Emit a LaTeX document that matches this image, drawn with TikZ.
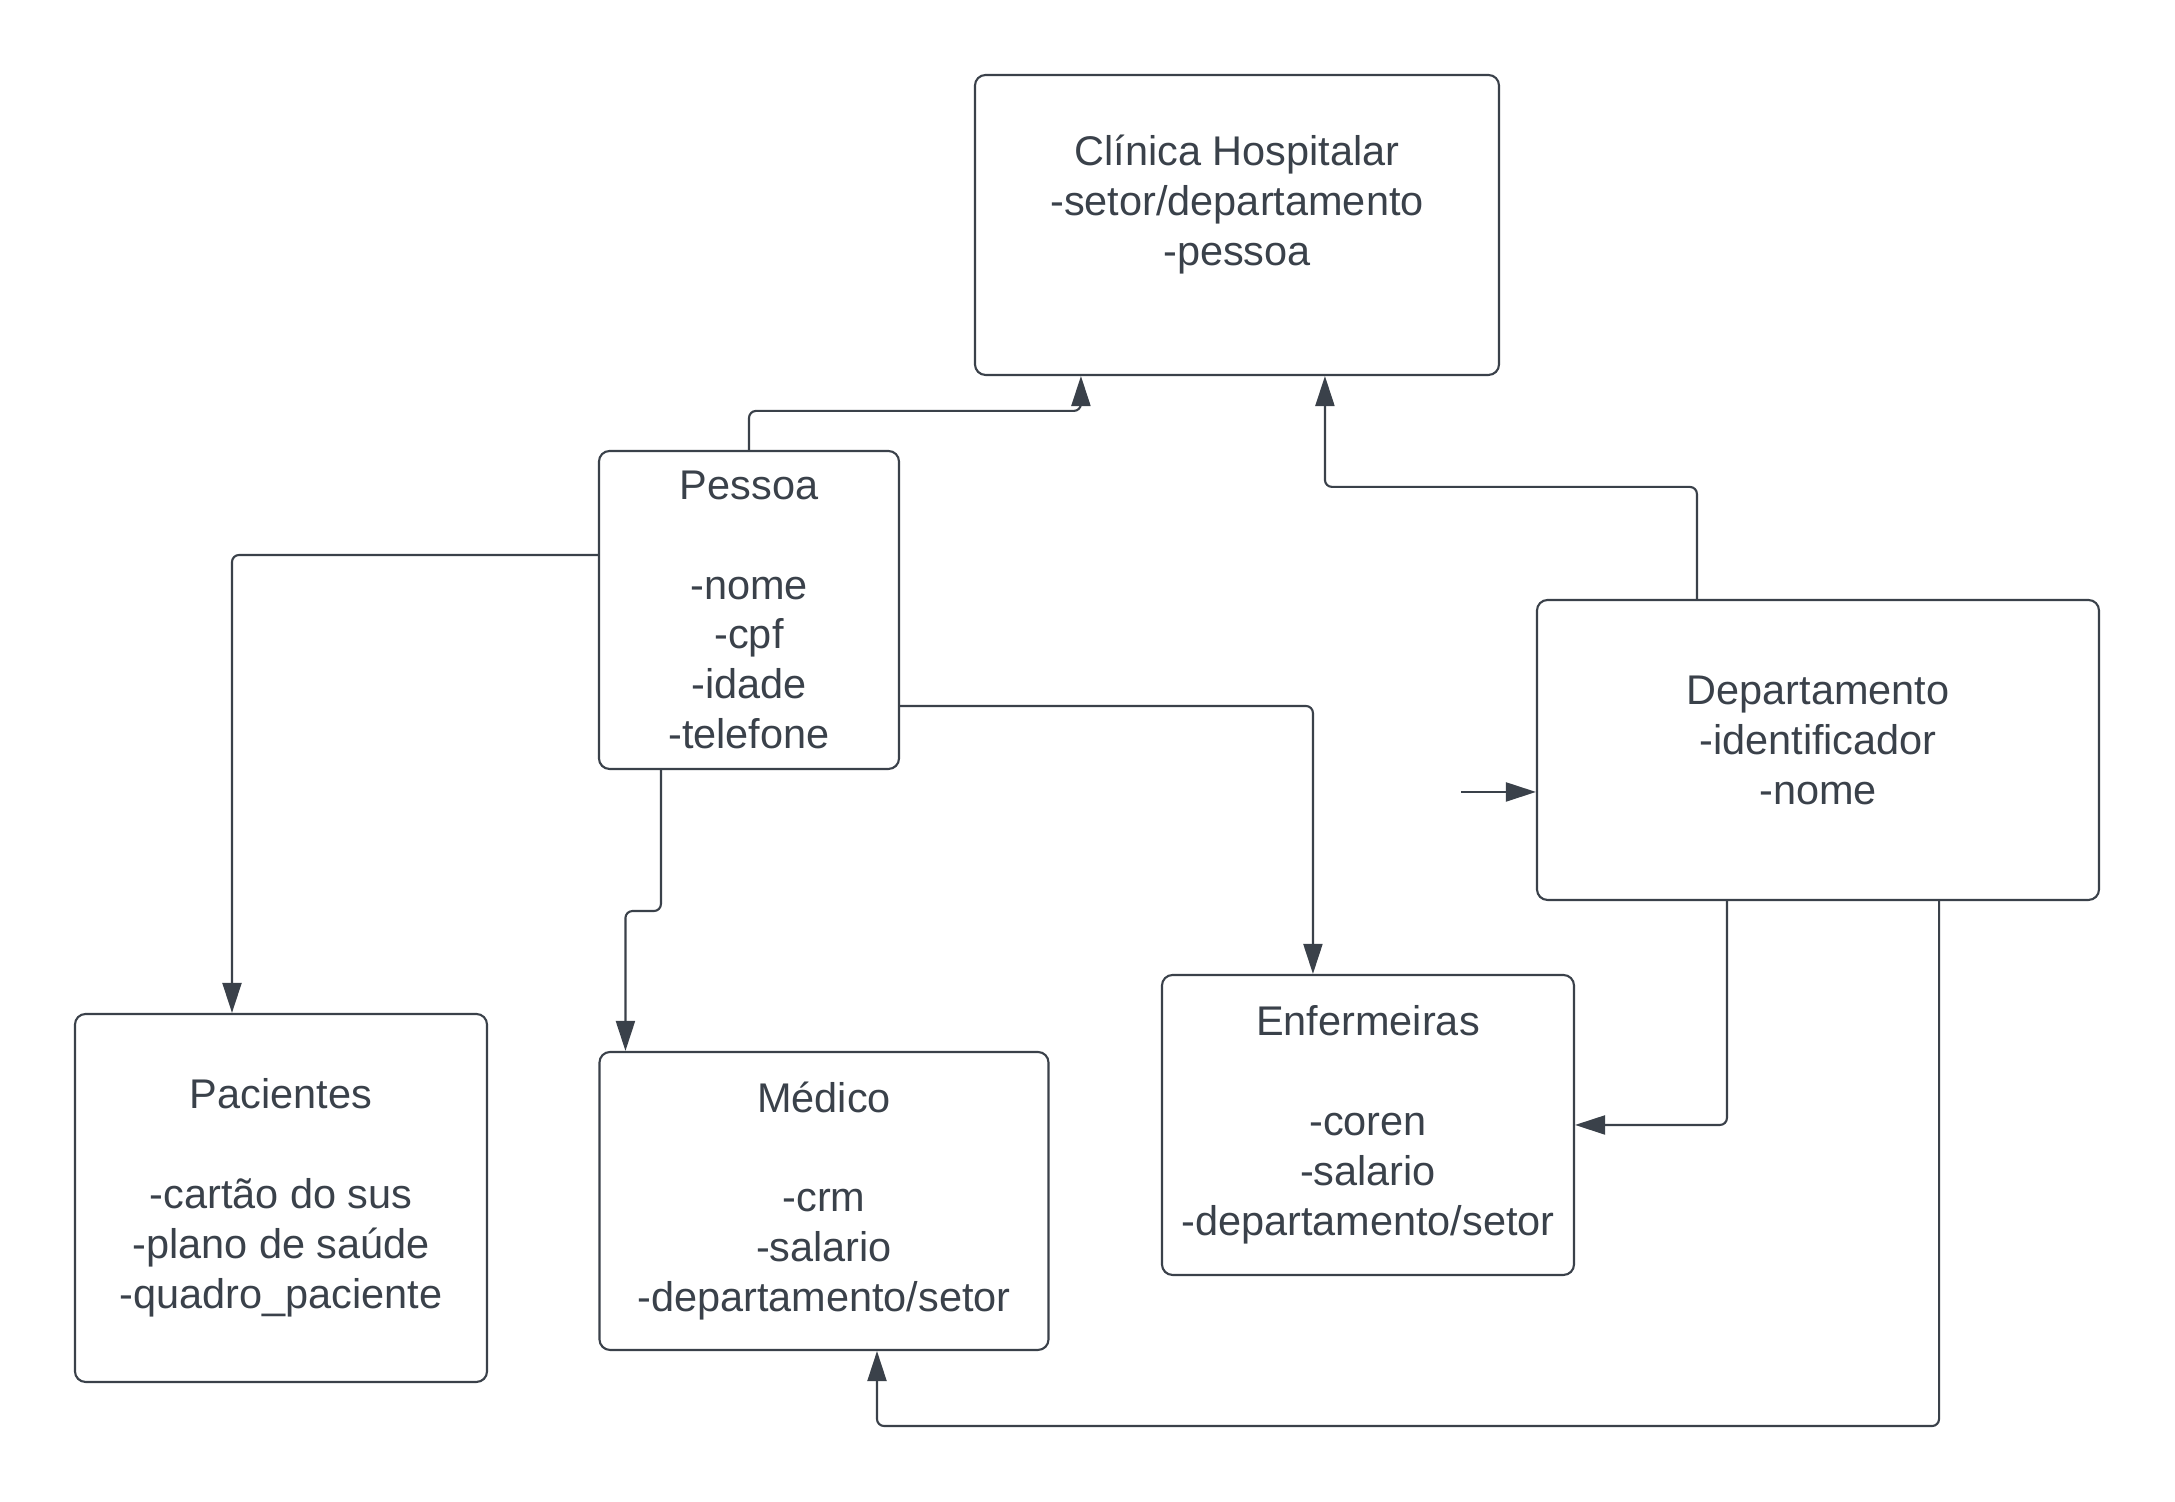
\documentclass[tikz,border=0pt]{standalone}
\usepackage{fontspec}
\setmainfont{Liberation Sans}
\usepackage{tikz}
\usetikzlibrary{arrows.meta,calc}
\definecolor{slatedark}{RGB}{58,65,74}
\colorlet{boxdraw}{slatedark}

\begin{document}
\begin{tikzpicture}[x=1cm,y=1cm,every node/.style={font=\fontsize{11.8}{14.2}\selectfont,text=slatedark},
    entity/.style={draw=boxdraw,line width=.6pt,rounded corners=3pt,align=center,inner sep=0pt},
    link/.style={-{Triangle[length=.3cm,width=.19cm]},line width=.6pt,draw=boxdraw,rounded corners=2pt}]
    \useasboundingbox (0,0) rectangle (21.75,15.02);
    % entidades
    \node[entity,minimum width=5.24cm,minimum height=3.0cm] (clinica) at (12.37,12.77) {Clínica Hospitalar\\-setor/departamento\\-pessoa\\~};
    \node[entity,minimum width=3.0cm,minimum height=3.18cm] (pessoa) at (7.49,8.92) {Pessoa\\~\\-nome\\-cpf\\-idade\\-telefone};
    \node[entity,minimum width=5.62cm,minimum height=3.0cm] (dep) at (18.18,7.52) {Departamento\\-identificador\\-nome\\[-8.7pt]~};
    \node[entity,minimum width=4.12cm,minimum height=3.68cm] (pacientes) at (2.81,3.04) {Pacientes\\~\\-cartão do sus\\-plano de saúde\\-quadro\_paciente};
    \node[entity,minimum width=4.49cm,minimum height=2.98cm] (medico) at (8.24,3.01) {Médico\\~\\-crm\\-salario\\-departamento/setor};
    \node[entity,minimum width=4.12cm,minimum height=3.0cm] (enfermeiras) at (13.68,3.77) {Enfermeiras\\~\\-coren\\-salario\\-departamento/setor};
    \coordinate (stub) at (14.61,7.10);
    % ligacoes
    \draw[link] (pessoa.north) -- ++(0,0.39) -| ([xshift=1.07cm]clinica.south west);
    \draw[link] ([xshift=1.61cm]dep.north west) -- ++(0,1.12) -| ([xshift=3.51cm]clinica.south west);
    \draw[link] ([yshift=0.55cm]pessoa.west) -| ([xshift=-0.49cm]pacientes.north);
    \draw[link] ([xshift=0.63cm]pessoa.south west) -- ++(0,-1.41) -| ([xshift=0.27cm]medico.north west);
    \draw[link] ([yshift=-0.96cm]pessoa.east) -| ([xshift=1.52cm]enfermeiras.north west);
    \draw[link] ([xshift=1.91cm]dep.south west) |- (enfermeiras.east);
    \draw[link] ([xshift=-1.61cm]dep.south east) -- ++(0,-5.25) -| ([xshift=0.53cm]medico.south);
    \draw[link] (stub) -- ([yshift=-0.42cm]dep.west);
  \end{tikzpicture}
\end{document}
